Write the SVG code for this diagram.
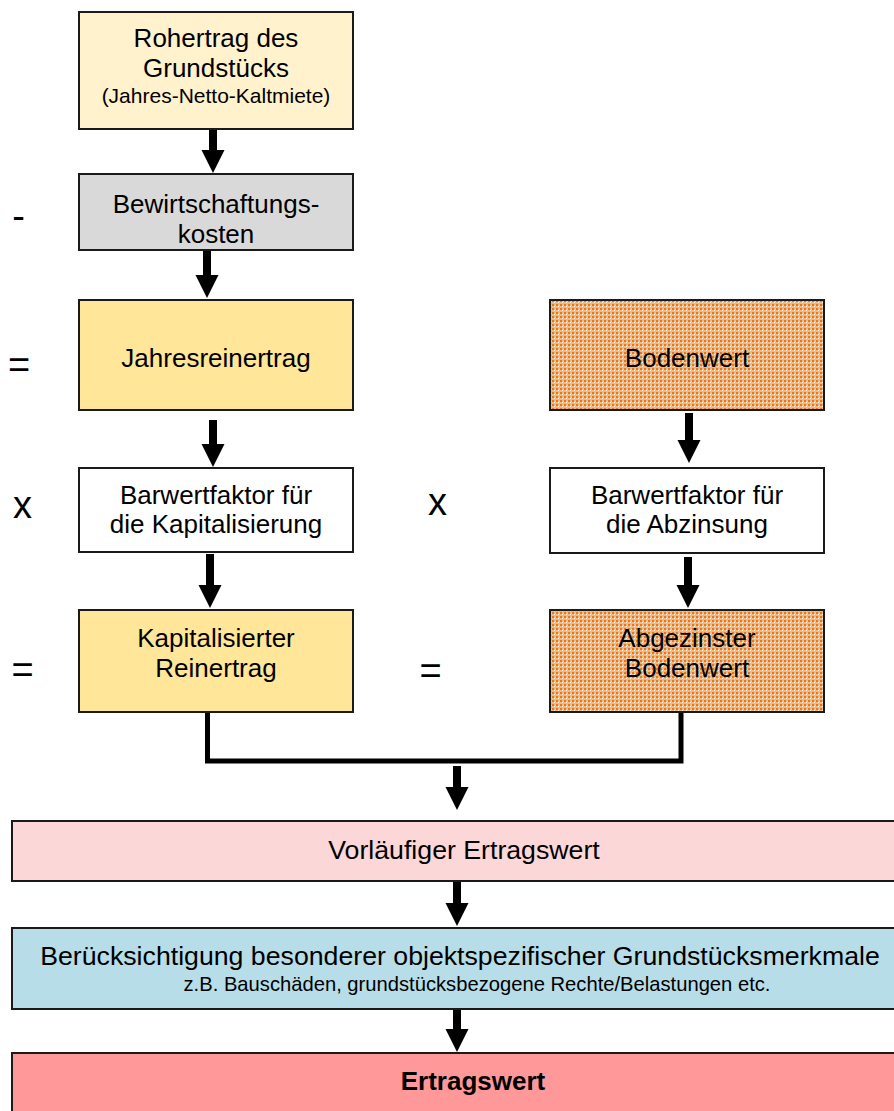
<svg xmlns="http://www.w3.org/2000/svg" width="894" height="1111" viewBox="0 0 894 1111">
<defs>
<pattern id="dots" x="0" y="0" width="4" height="4" patternUnits="userSpaceOnUse">
<rect width="4" height="4" fill="#F3B77F"/>
<rect x="0" y="0" width="2" height="2" fill="#E07A1C"/>
<rect x="2" y="2" width="1" height="1" fill="#FFF6EC"/>
<rect x="3" y="1" width="1" height="1" fill="#F8D2AA"/>
</pattern>
<marker id="ah" markerUnits="userSpaceOnUse" markerWidth="24" markerHeight="24" refX="0" refY="11.5" orient="auto">
<path d="M0,0 L23,11.5 L0,23 z" fill="#000"/>
</marker>
</defs>
<style>
.box{stroke:#1a1a1a;stroke-width:2}
.t{font-family:"Liberation Sans",Arial,sans-serif;font-size:26px;fill:#000;text-anchor:middle}
.s{font-size:21px}
.op{font-family:"Liberation Sans",Arial,sans-serif;font-size:38px;fill:#000;text-anchor:middle}
.ar{stroke:#000;stroke-width:8;fill:none;marker-end:url(#ah)}
.ln{stroke:#000;stroke-width:5;fill:none;stroke-linejoin:miter}
</style>

<g id="connectors">
<line class="ar" x1="213" y1="130" x2="213" y2="150"/>
<line class="ar" x1="207" y1="251" x2="207" y2="275"/>
<line class="ar" x1="213" y1="420" x2="213" y2="444"/>
<line class="ar" x1="210" y1="554" x2="210" y2="585"/>
<line class="ar" x1="689" y1="413" x2="689" y2="440"/>
<line class="ar" x1="688" y1="557" x2="688" y2="585"/>
<path class="ln" d="M207.5,712 V761 H681 V712"/>
<line class="ar" x1="457" y1="766" x2="457" y2="787"/>
<line class="ar" x1="457" y1="882" x2="457" y2="903"/>
<line class="ar" x1="457" y1="1010" x2="457" y2="1029"/>
</g>

<g id="n-rohertrag">
<rect class="box" x="79" y="12" width="274" height="117" fill="#FFF2CC"/>
<text class="t" x="216" y="47">Rohertrag des</text>
<text class="t" x="216" y="77">Grundstücks</text>
<text class="t s" x="216" y="103">(Jahres-Netto-Kaltmiete)</text>
</g>

<g id="n-bewirt">
<rect class="box" x="79" y="174" width="274" height="76" fill="#D9D9D9"/>
<text class="t" x="216" y="213">Bewirtschaftungs-</text>
<text class="t" x="216" y="243">kosten</text>
</g>

<g id="n-jahresreinertrag">
<rect class="box" x="79" y="300" width="274" height="110" fill="#FFE699"/>
<text class="t" x="216" y="367">Jahresreinertrag</text>
</g>

<g id="n-bodenwert">
<rect class="box" x="550" y="300" width="274" height="110" fill="url(#dots)"/>
<text class="t" x="687" y="367">Bodenwert</text>
</g>

<g id="n-bwf-kap">
<rect class="box" x="79" y="468" width="274" height="84" fill="#FFFFFF"/>
<text class="t" x="216" y="504">Barwertfaktor für</text>
<text class="t" x="216" y="533">die Kapitalisierung</text>
</g>

<g id="n-bwf-abz">
<rect class="box" x="550" y="468" width="274" height="85" fill="#FFFFFF"/>
<text class="t" x="687" y="504">Barwertfaktor für</text>
<text class="t" x="687" y="533">die Abzinsung</text>
</g>

<g id="n-kap-reinertrag">
<rect class="box" x="79" y="610" width="274" height="102" fill="#FFE699"/>
<text class="t" x="216" y="647">Kapitalisierter</text>
<text class="t" x="216" y="677">Reinertrag</text>
</g>

<g id="n-abg-bodenwert">
<rect class="box" x="550" y="610" width="274" height="102" fill="url(#dots)"/>
<text class="t" x="687" y="647">Abgezinster</text>
<text class="t" x="687" y="677">Bodenwert</text>
</g>

<g id="operators">
<text class="op" x="18.5" y="229">-</text>
<text class="op" x="19" y="378">=</text>
<text class="op" x="22.5" y="518">x</text>
<text class="op" x="22.5" y="683">=</text>
<text class="op" x="437.5" y="515">x</text>
<text class="op" x="430.5" y="684">=</text>
</g>

<g id="n-vorlaeufig">
<rect class="box" x="12" y="821" width="890" height="60" fill="#FBD7D7"/>
<text class="t" x="464" y="859" style="font-size:26.7px">Vorläufiger Ertragswert</text>
</g>

<g id="n-beruecksichtigung">
<rect class="box" x="12" y="928" width="890" height="81" fill="#B7DDE8"/>
<text class="t" x="460" y="965" style="font-size:26.7px">Berücksichtigung besonderer objektspezifischer Grundstücksmerkmale</text>
<text class="t" x="477" y="991" style="font-size:20.2px">z.B. Bauschäden, grundstücksbezogene Rechte/Belastungen etc.</text>
</g>

<g id="n-ertragswert">
<rect class="box" x="12" y="1053" width="890" height="70" fill="#FF9999"/>
<text class="t" x="473" y="1090" font-weight="bold">Ertragswert</text>
</g>
</svg>
